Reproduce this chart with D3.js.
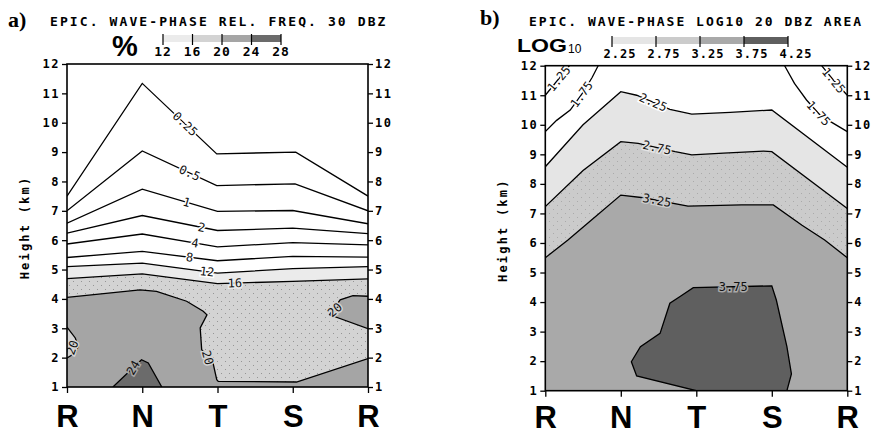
<!DOCTYPE html>
<html>
<head>
<meta charset="utf-8">
<script src="https://cdn.jsdelivr.net/npm/d3@7"></script>
<style>
  body { margin: 0; background: #fff; }
</style>
</head>
<body>
<script>
const width = 875, height = 436;
const mono = "DejaVu Sans Mono, monospace";
const sans = "Liberation Sans, Arial, sans-serif";

// shared axes
const phases = ["R", "N", "T", "S", "R"];
const heightTicks = [1, 2, 3, 4, 5, 6, 7, 8, 9, 10, 11, 12];

// panel a) relative frequency of 30 dBZ, contour lines as [phase index, height km]
const aLevels = [12, 16, 20, 24, 28];
const aColors = ["#ebebeb", "#d3d3d3", "#a5a5a5", "#6b6b6b"];
const a025 = [[0, 7.5], [1, 11.34], [1.99, 8.94], [3.04, 9.0], [4, 7.5]];
const a05  = [[0, 7.0], [1, 9.04], [1.99, 7.86], [3.03, 7.92], [4, 7.0]];
const a1   = [[0, 6.58], [1, 7.74], [2, 6.98], [3, 7.01], [4, 6.56]];
const a2   = [[0, 6.24], [1, 6.84], [2, 6.33], [3, 6.41], [4, 6.22]];
const a4   = [[0, 5.87], [1, 6.21], [2, 5.77], [3, 5.92], [4, 5.84]];
const a8   = [[0, 5.41], [1, 5.62], [2, 5.30], [3, 5.45], [4, 5.42]];
const a12  = [[0, 5.10], [1, 5.22], [2, 4.88], [3, 5.03], [4, 5.10]];
const a16  = [[0, 4.69], [1, 4.85], [2, 4.52], [3, 4.60], [4, 4.68]];
const a20  = [[0, 4.05], [0.97, 4.31], [1.19, 4.26], [1.59, 3.92], [1.81, 3.58], [1.86, 3.46],
              [1.77, 3.01], [1.79, 2.27], [1.94, 1.82], [1.99, 1.25], [2.01, 1.19], [3.05, 1.17], [4, 1.97]];
const a20left  = [[0, 3.04], [0.11, 2.67], [0.15, 2.38], [0.11, 2.16], [0, 1.99]];
const a20right = [[4, 4.09], [3.80, 4.11], [3.63, 3.97], [3.49, 3.46], [4, 2.99]];
const a24  = [[0.61, 1.0], [0.99, 1.93], [1.08, 1.82], [1.26, 1.0]];

// panel b) log10 of 20 dBZ area
const bLevels = [2.25, 2.75, 3.25, 3.75, 4.25];
const bColors = ["#e5e5e5", "#cbcbcb", "#a9a9a9", "#5f5f5f"];
const b125L = [[0, 11.0], [0.16, 11.5], [0.32, 12.0]];
const b175L = [[0, 9.77], [0.15, 10.15], [0.33, 10.5], [0.5, 11.1], [0.62, 11.6], [0.70, 12.0]];
const b125R = [[3.66, 12.0], [3.82, 11.5], [4, 11.0]];
const b175R = [[3.17, 12.0], [3.3, 11.4], [3.46, 10.84], [3.65, 10.3], [4, 9.77]];
const b225 = [[0, 8.58], [0.5, 10.0], [1.0, 11.12], [1.21, 11.0], [1.65, 10.52], [1.94, 10.36],
              [2.45, 10.42], [3.0, 10.5], [4, 8.56]];
const b275 = [[0, 7.23], [0.5, 8.45], [1.0, 9.43], [1.23, 9.37], [1.72, 9.09], [1.94, 8.98],
              [2.36, 9.04], [2.89, 9.11], [3.0, 9.09], [4, 7.17]];
const b325 = [[0, 5.5], [0.3, 6.1], [0.6, 6.75], [1.0, 7.62], [1.30, 7.53], [1.89, 7.25],
              [2.6, 7.29], [3.02, 7.29], [3.4, 6.6], [3.7, 6.1], [4, 5.5]];
const b375 = [[1.96, 4.49], [3.0, 4.55], [3.06, 4.07], [3.20, 2.49], [3.26, 1.57], [3.20, 1.0],
              [2.0, 1.0], [1.21, 1.50], [1.14, 1.98], [1.26, 2.49], [1.52, 2.94], [1.65, 3.96], [1.78, 4.18]];

// contour labels: band = colour band behind the label (-1 is white)
const aLabels = [
  {t: "0.25", line: a025, at: 1.57, band: -1},
  {t: "0.5", line: a05, at: 1.63, band: -1},
  {t: "1", line: a1, at: 1.59, band: -1},
  {t: "2", line: a2, at: 1.79, band: -1},
  {t: "4", line: a4, at: 1.70, band: -1},
  {t: "8", line: a8, at: 1.63, band: -1},
  {t: "12", line: a12, at: 1.86, band: -1},
  {t: "16", line: a16, at: 2.23, band: 0},
  {t: "20", at: 0.07, h: 2.34, angle: -70, band: 1},
  {t: "20", at: 1.87, h: 2.0, angle: 75, band: 1},
  {t: "20", at: 3.56, h: 3.63, angle: -40, band: 1},
  {t: "24", at: 0.88, h: 1.66, angle: -60, band: 2}
];
const bLabels = [
  {t: "1.25", line: b125L, at: 0.18, band: -1},
  {t: "1.75", line: b175L, at: 0.48, band: -1},
  {t: "1.25", line: b125R, at: 3.82, band: -1},
  {t: "1.75", line: b175R, at: 3.62, band: -1},
  {t: "2.25", line: b225, at: 1.43, band: -1},
  {t: "2.75", line: b275, at: 1.48, band: 0},
  {t: "3.25", line: b325, at: 1.48, band: 1},
  {t: "3.75", at: 2.49, h: 4.52, angle: 0, band: 2}
];

const svg = d3.select("body").append("svg")
    .attr("width", width)
    .attr("height", height)
    .attr("font-family", mono);

const defs = svg.append("defs");
const pat = defs.append("pattern")
    .attr("id", "dots")
    .attr("patternUnits", "userSpaceOnUse")
    .attr("width", 8).attr("height", 8);
pat.append("circle").attr("cx", 1.5).attr("cy", 1.5).attr("r", 0.55).attr("fill", "#8a8a8a");
pat.append("circle").attr("cx", 5.5).attr("cy", 5.5).attr("r", 0.55).attr("fill", "#8a8a8a");

function panel(id, box) {
  const x = d3.scaleLinear().domain([0, 4]).range([box.left, box.right]);
  const y = d3.scaleLinear().domain([1, 12]).range([box.bottom, box.top]);
  const g = svg.append("g");
  defs.append("clipPath").attr("id", "clip" + id)
    .append("rect")
      .attr("x", box.left).attr("y", box.top)
      .attr("width", box.right - box.left).attr("height", box.bottom - box.top);
  const plot = g.append("g").attr("clip-path", "url(#clip" + id + ")");
  const line = d3.line().x(d => x(d[0])).y(d => y(d[1]));
  // fill everything below a contour line down to 1 km
  const below = pts => line(pts.concat([[pts[pts.length - 1][0], 1], [pts[0][0], 1]])) + "Z";
  const closed = pts => line(pts) + "Z";
  return {x, y, g, plot, line, below, closed};
}

function labelPos(p, lab) {
  if (lab.line == null) return [p.x(lab.at), p.y(lab.h), lab.angle];
  const pts = lab.line;
  for (let i = 0; i < pts.length - 1; i++) {
    const a = pts[i], b = pts[i + 1];
    const lo = Math.min(a[0], b[0]), hi = Math.max(a[0], b[0]);
    if (lab.at >= lo && lab.at <= hi) {
      const f = (lab.at - a[0]) / (b[0] - a[0]);
      const h = a[1] + f * (b[1] - a[1]);
      let ang = Math.atan2(p.y(b[1]) - p.y(a[1]), p.x(b[0]) - p.x(a[0])) * 180 / Math.PI;
      if (ang > 90) ang -= 180;
      if (ang < -90) ang += 180;
      return [p.x(lab.at), p.y(h), ang];
    }
  }
  return [0, 0, 0];
}

function drawLabels(p, labels, colors) {
  p.plot.selectAll(null)
    .data(labels)
    .join("text")
      .attr("transform", d => {
        const q = labelPos(p, d);
        return "translate(" + q[0] + "," + q[1] + ") rotate(" + q[2] + ")";
      })
      .attr("text-anchor", "middle")
      .attr("dy", "0.35em")
      .attr("font-size", 12)
      .attr("fill", "#111")
      .attr("stroke", d => d.band < 0 ? "#fff" : colors[d.band])
      .attr("stroke-width", 3)
      .attr("paint-order", "stroke")
      .text(d => d.t);
}

function drawAxes(p, box) {
  const left = p.g.append("g")
      .attr("transform", "translate(" + box.left + ",0)")
      .call(d3.axisLeft(p.y).tickValues(heightTicks).tickSize(5).tickPadding(2));
  const right = p.g.append("g")
      .attr("transform", "translate(" + box.right + ",0)")
      .call(d3.axisRight(p.y).tickValues(heightTicks).tickSize(5).tickPadding(2));
  [left, right].forEach(ax => {
    ax.select(".domain").remove();
    ax.selectAll("line").attr("stroke", "#000").attr("stroke-width", 1.3);
    ax.selectAll("text")
      .attr("font-family", mono)
      .attr("font-weight", "bold")
      .attr("font-size", 12)
      .attr("letter-spacing", 1.5)
      .attr("fill", "#000");
  });
  const bottom = p.g.append("g")
      .attr("transform", "translate(0," + box.bottom + ")")
      .call(d3.axisBottom(p.x).tickValues([0, 1, 2, 3, 4]).tickFormat(i => phases[i])
            .tickSize(6).tickPadding(box.pad));
  bottom.select(".domain").remove();
  bottom.selectAll("line").attr("stroke", "#000").attr("stroke-width", 1.3);
  bottom.selectAll("text")
    .attr("font-family", sans)
    .attr("font-weight", "bold")
    .attr("font-size", 31)
    .attr("fill", "#000");
  p.g.append("rect")
    .attr("x", box.left).attr("y", box.top)
    .attr("width", box.right - box.left).attr("height", box.bottom - box.top)
    .attr("fill", "none").attr("stroke", "#000").attr("stroke-width", 1.6);
  p.g.append("text")
    .attr("transform", "translate(" + (box.left - 38) + "," + ((box.top + box.bottom) / 2 + 2) + ") rotate(-90)")
    .attr("text-anchor", "middle")
    .attr("font-weight", "bold")
    .attr("font-size", 12)
    .attr("letter-spacing", 2.2)
    .attr("fill", "#000")
    .text("Height (km)");
}

function colorbar(levels, colors, x0, x1, y0, fmt, fontSize, dx) {
  const s = d3.scaleLinear().domain([levels[0], levels[levels.length - 1]]).range([x0, x1]);
  const cb = svg.append("g");
  cb.selectAll("rect")
    .data(colors)
    .join("rect")
      .attr("x", (d, i) => s(levels[i]))
      .attr("y", y0)
      .attr("width", (d, i) => s(levels[i + 1]) - s(levels[i]))
      .attr("height", 7)
      .attr("fill", d => d);
  cb.selectAll("line")
    .data(levels)
    .join("line")
      .attr("x1", d => s(d)).attr("x2", d => s(d))
      .attr("y1", y0 - 1).attr("y2", y0 + 10)
      .attr("stroke", "#000").attr("stroke-width", 1.2);
  cb.selectAll("text")
    .data(levels)
    .join("text")
      .attr("x", d => s(d) + dx)
      .attr("y", y0 + 21)
      .attr("text-anchor", "middle")
      .attr("font-weight", "bold")
      .attr("font-size", fontSize)
      .attr("letter-spacing", 1)
      .attr("fill", "#000")
      .text(fmt);
}

// ---------- panel a ----------
const boxA = {left: 67, right: 368, top: 64, bottom: 387, pad: 12};
const pa = panel("a", boxA);
pa.plot.append("path").attr("d", pa.below(a12)).attr("fill", aColors[0]);
pa.plot.append("path").attr("d", pa.below(a16)).attr("fill", aColors[1]);
pa.plot.append("path").attr("d", pa.below(a16)).attr("fill", "url(#dots)");
pa.plot.append("path").attr("d", pa.below(a20)).attr("fill", aColors[2]);
pa.plot.append("path").attr("d", pa.closed(a20left)).attr("fill", aColors[1]);
pa.plot.append("path").attr("d", pa.closed(a20right)).attr("fill", aColors[2]);
pa.plot.append("path").attr("d", pa.closed(a24)).attr("fill", aColors[3]);
[a025, a05, a1, a2, a4, a8, a12, a16, a20, a20left, a20right, a24].forEach(c => {
  pa.plot.append("path")
    .attr("d", pa.line(c))
    .attr("fill", "none")
    .attr("stroke", "#000")
    .attr("stroke-width", 1.3);
});
drawLabels(pa, aLabels, aColors);
drawAxes(pa, boxA);

// ---------- panel b ----------
const boxB = {left: 545.3, right: 847.3, top: 65.7, bottom: 390.7, pad: 9};
const pb = panel("b", boxB);
pb.plot.append("path").attr("d", pb.below(b225)).attr("fill", bColors[0]);
pb.plot.append("path").attr("d", pb.below(b275)).attr("fill", bColors[1]);
pb.plot.append("path").attr("d", pb.below(b275)).attr("fill", "url(#dots)").attr("opacity", 0.6);
pb.plot.append("path").attr("d", pb.below(b325)).attr("fill", bColors[2]);
pb.plot.append("path").attr("d", pb.closed(b375)).attr("fill", bColors[3]);
[b125L, b175L, b125R, b175R, b225, b275, b325].forEach(c => {
  pb.plot.append("path")
    .attr("d", pb.line(c))
    .attr("fill", "none")
    .attr("stroke", "#000")
    .attr("stroke-width", 1.3);
});
pb.plot.append("path")
  .attr("d", pb.closed(b375))
  .attr("fill", "none")
  .attr("stroke", "#000")
  .attr("stroke-width", 1.3);
drawLabels(pb, bLabels, bColors);
drawAxes(pb, boxB);

// ---------- titles and legends ----------
svg.append("text")
  .attr("x", 8).attr("y", 27)
  .attr("font-family", "Liberation Serif, Times New Roman, serif")
  .attr("font-weight", "bold")
  .attr("font-size", 22)
  .text("a)");
svg.append("text")
  .attr("x", 480).attr("y", 25)
  .attr("font-family", "Liberation Serif, Times New Roman, serif")
  .attr("font-weight", "bold")
  .attr("font-size", 22)
  .text("b)");

svg.append("text")
  .attr("x", 50).attr("y", 26)
  .attr("font-weight", "bold")
  .attr("font-size", 13)
  .attr("letter-spacing", 2.1)
  .text("EPIC. WAVE-PHASE REL. FREQ. 30 DBZ");
svg.append("text")
  .attr("x", 529).attr("y", 26)
  .attr("font-weight", "bold")
  .attr("font-size", 13)
  .attr("letter-spacing", 2.0)
  .text("EPIC. WAVE-PHASE LOG10 20 DBZ AREA");

svg.append("text")
  .attr("x", 112).attr("y", 56)
  .attr("font-family", sans)
  .attr("font-weight", "bold")
  .attr("font-size", 29)
  .text("%");
colorbar(aLevels, aColors, 163, 281, 35, d3.format("d"), 13, 0);

svg.append("text")
  .attr("x", 517).attr("y", 52)
  .attr("font-family", sans)
  .attr("font-weight", "bold")
  .attr("font-size", 18)
  .attr("textLength", 50)
  .attr("lengthAdjust", "spacingAndGlyphs")
  .text("LOG");
svg.append("text")
  .attr("x", 568).attr("y", 53)
  .attr("font-family", sans)
  .attr("font-size", 12)
  .text("10");
colorbar(bLevels, bColors, 612, 788, 37, d3.format(".2f"), 12, 8);
</script>
</body>
</html>
